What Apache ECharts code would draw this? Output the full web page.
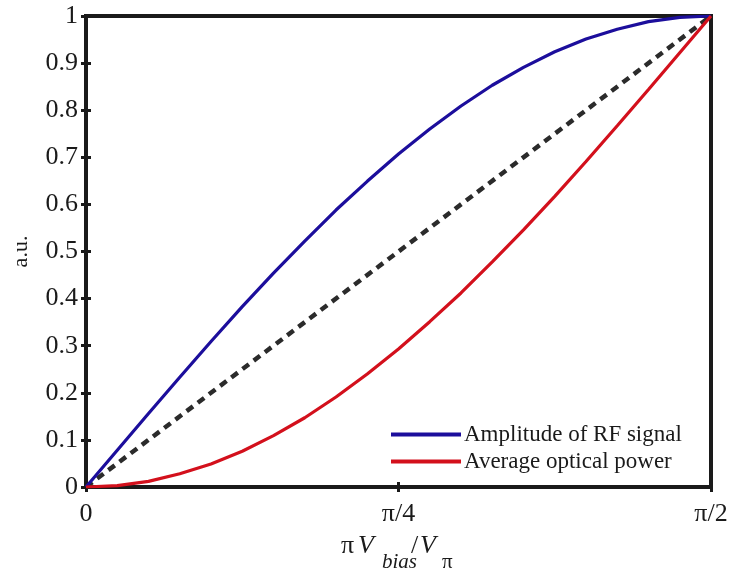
<!DOCTYPE html>
<html><head><meta charset="utf-8">
<script src="https://cdn.jsdelivr.net/npm/echarts@6/dist/echarts.min.js"></script>
<style>html,body{margin:0;padding:0;background:#fff}#c{width:730px;height:572px}</style>
</head><body><div id="c"></div>
<script>
// x as fraction of pi/2 (0 .. 1)
const xPos = [0,0.05,0.1,0.15,0.2,0.25,0.3,0.35,0.4,0.45,0.5,0.55,0.6,0.65,0.7,0.75,0.8,0.85,0.9,0.95,1];
const amplitudeRF = [0,0.078,0.156,0.233,0.309,0.383,0.454,0.522,0.588,0.649,0.707,0.760,0.809,0.853,0.891,0.924,0.951,0.972,0.988,0.997,1];
const avgOptical = [0,0.003,0.012,0.028,0.049,0.076,0.109,0.147,0.191,0.240,0.293,0.351,0.412,0.478,0.546,0.617,0.691,0.767,0.844,0.922,1];
const refLine = [[0,0],[1,1]];
const xTickLabels = {0:'0', 0.5:'π/4', 1:'π/2'};
const seriesNames = ['Amplitude of RF signal','Average optical power'];
const xTitleParts = [['π','n'],['V','i'],['bias','s'],['/','n'],['V','i'],['π','sn']];

const font = 'Liberation Serif, Times New Roman, serif';
const dark = '#1a1a1a';
const chart = echarts.init(document.getElementById('c'));
const pairs = arr => xPos.map((x,i)=>[x,arr[i]]);
const titleX = [341,358,382,411,420,442];
const titleEls = xTitleParts.map((p,i)=>{
  const sub = p[1]==='s'||p[1]==='sn';
  return {type:'text',left:titleX[i],top:sub?552:533,silent:true,
    style:{text:p[0],fontFamily:font,fontSize:sub?21:26,fontStyle:(p[1]==='i'||p[1]==='s')?'italic':'normal',fill:dark}};
});
chart.setOption({
  animation:false,
  grid:{left:86,right:19,top:16,bottom:85,outerBoundsMode:'none',containLabel:false,show:true,borderColor:dark,borderWidth:4,backgroundColor:'#fff'},
  graphic:titleEls,
  xAxis:[{
    type:'value',min:0,max:1,interval:0.5,
    axisLine:{show:false},splitLine:{show:false},
    axisTick:{show:true,inside:true,length:5,lineStyle:{color:dark,width:3}},
    axisLabel:{margin:14,color:dark,fontFamily:font,fontSize:26,formatter:v=>xTickLabels[v]!==undefined?xTickLabels[v]:''}
  },{
    type:'value',min:0,max:1,interval:0.5,position:'top',
    axisLine:{show:false},splitLine:{show:false},axisLabel:{show:false},
    axisTick:{show:true,inside:true,length:5,lineStyle:{color:dark,width:3}}
  }],
  yAxis:[{
    type:'value',min:0,max:1,interval:0.1,
    axisLine:{show:false},splitLine:{show:false},
    axisTick:{show:true,inside:true,length:5,lineStyle:{color:dark,width:3}},
    axisLabel:{margin:8,color:dark,fontFamily:font,fontSize:26,formatter:v=>String(Math.round(v*10)/10)},
    name:'a.u.',nameLocation:'middle',nameGap:54,nameRotate:90,
    nameTextStyle:{fontFamily:font,fontSize:22,color:dark}
  },{
    type:'value',min:0,max:1,interval:0.1,position:'right',
    axisLine:{show:false},splitLine:{show:false},axisLabel:{show:false},
    axisTick:{show:true,inside:true,length:5,lineStyle:{color:dark,width:3}}
  }],
  legend:{
    left:386,top:418,orient:'vertical',itemGap:4,itemWidth:70,itemHeight:4,
    icon:'rect',data:seriesNames,
    textStyle:{fontFamily:font,fontSize:23,color:dark,padding:[0,0,0,-2]}
  },
  series:[
    {type:'line',name:'ref',data:refLine,showSymbol:false,z:2,
     lineStyle:{color:'#2b2b2b',width:4.5,type:[8,6]}},
    {type:'line',name:seriesNames[0],data:pairs(amplitudeRF),showSymbol:false,z:3,
     itemStyle:{color:'#1c0e9c'},lineStyle:{color:'#1c0e9c',width:3.2}},
    {type:'line',name:seriesNames[1],data:pairs(avgOptical),showSymbol:false,z:3,
     itemStyle:{color:'#d3101c'},lineStyle:{color:'#d3101c',width:3.2}}
  ]
});
</script></body></html>
